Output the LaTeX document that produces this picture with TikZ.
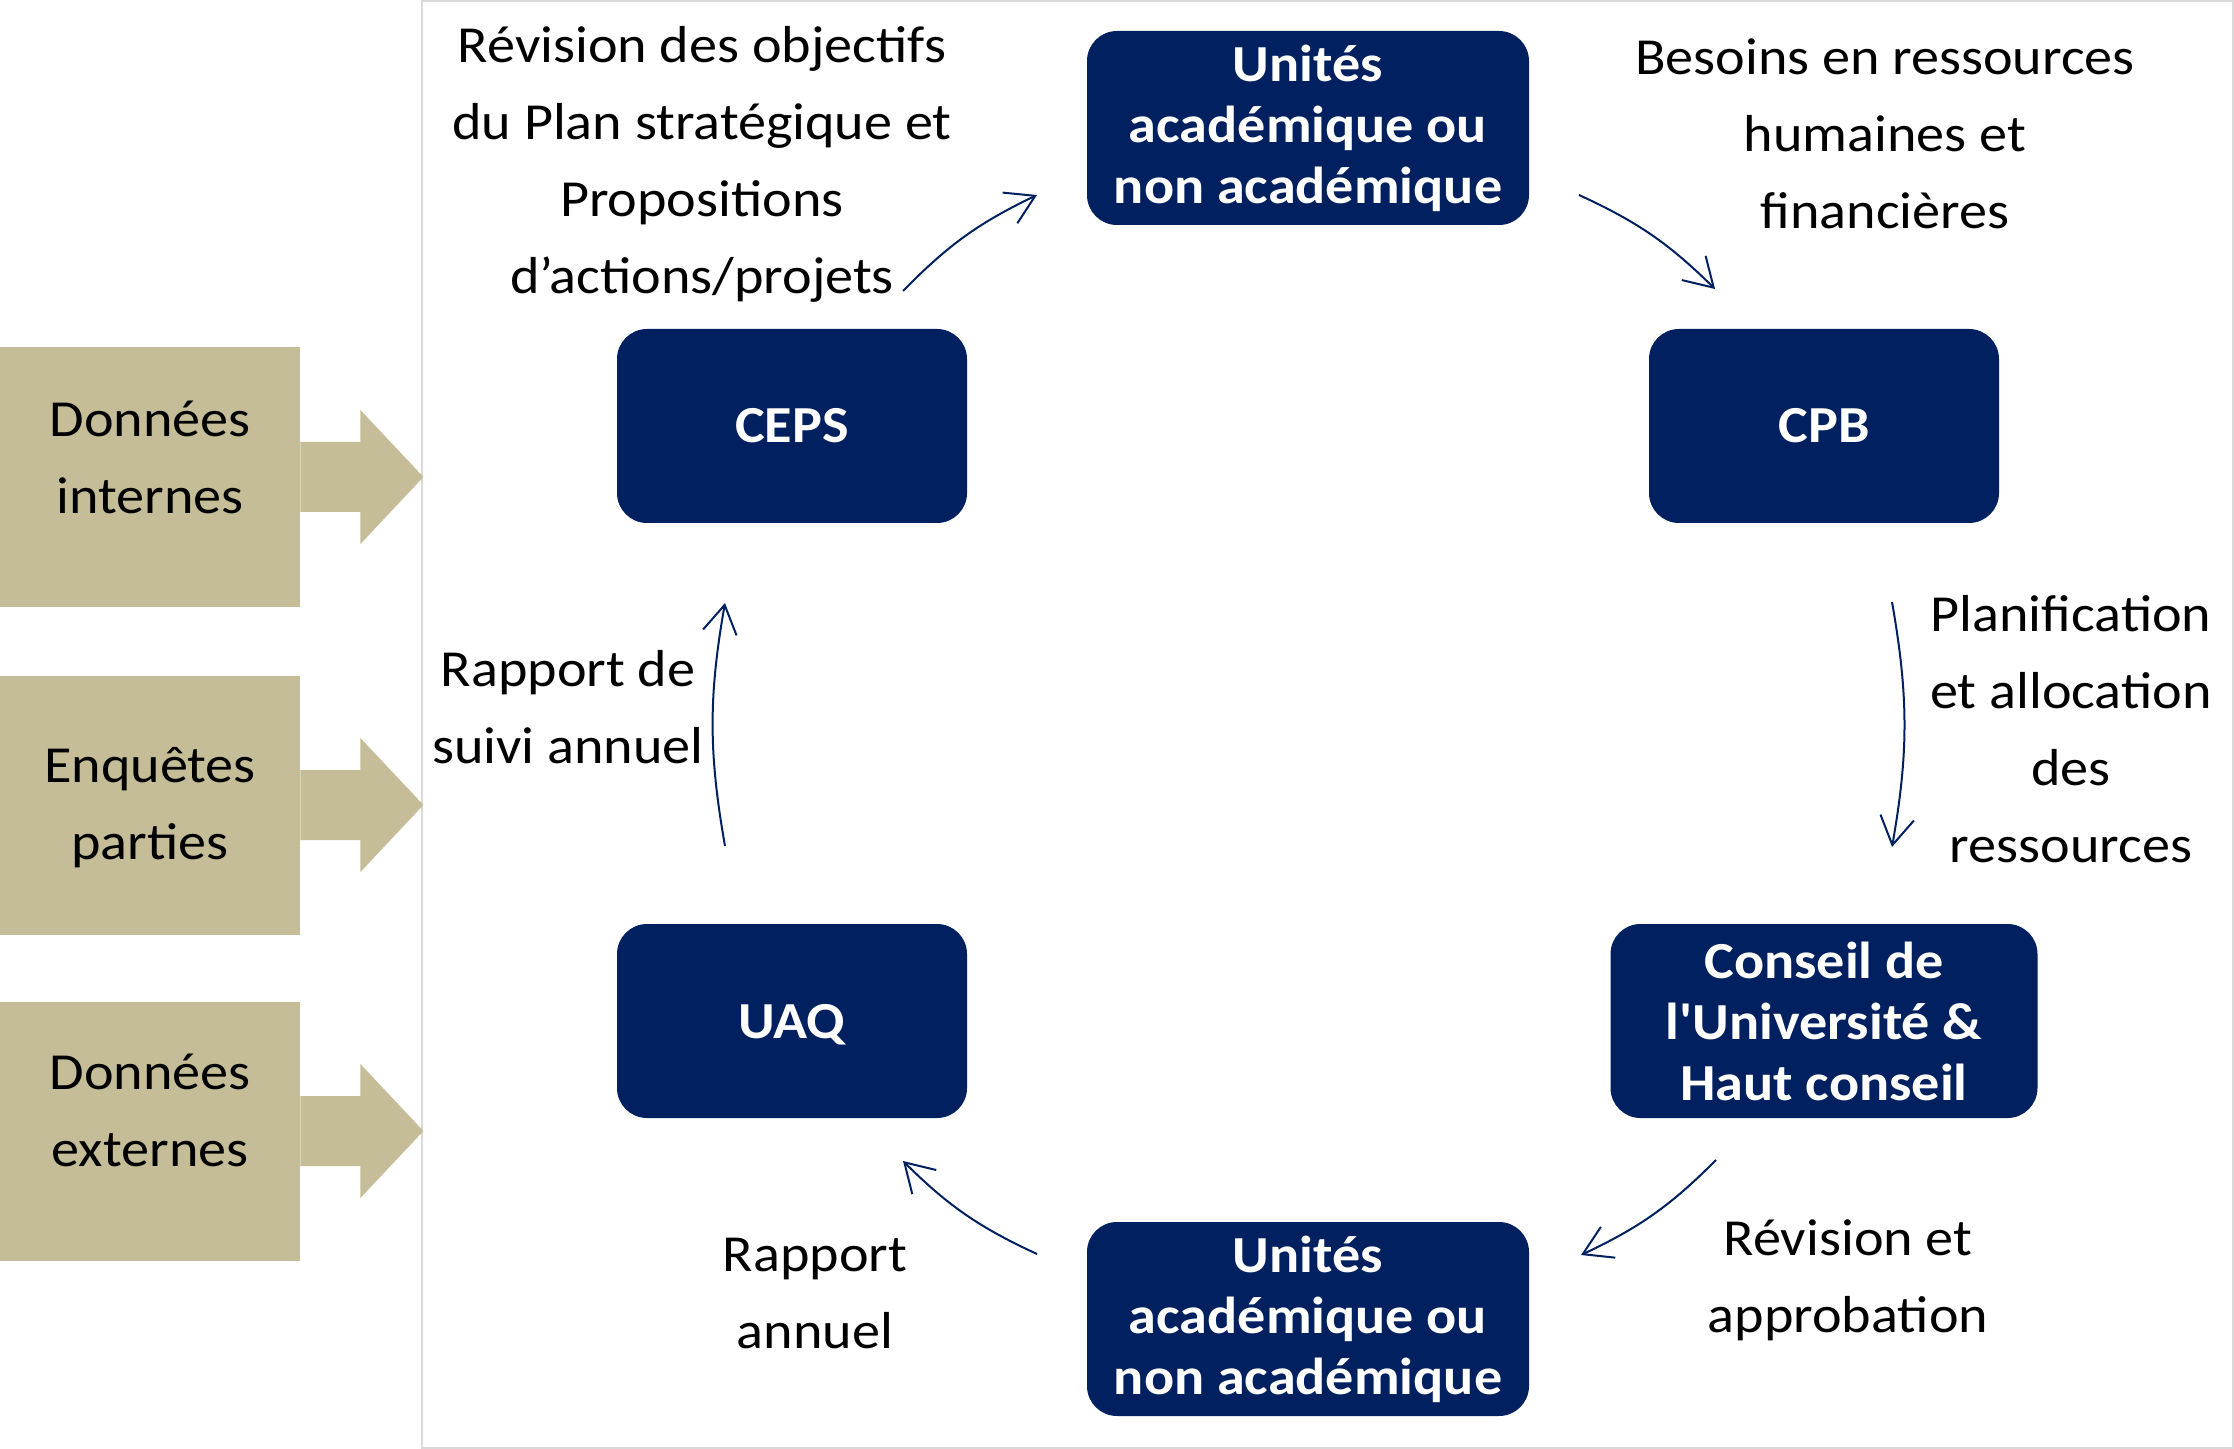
\documentclass[tikz,border=0pt]{standalone}
\usepackage{fontspec}
\setmainfont{Carlito}[Ligatures=TeXOff,FakeStretch=1.08]
\usepackage{tikz}
\usetikzlibrary{arrows.meta}
\definecolor{navy}{HTML}{002060}
\definecolor{tan}{HTML}{C4BD97}
\definecolor{framegray}{HTML}{D9D9D9}

\begin{document}
\begin{tikzpicture}[x=0.5pt,y=0.5pt,
	unit/.style={fill=navy,rounded corners=15pt,text=white,align=center,
		font=\bfseries\fontsize{26pt}{30.5pt}\selectfont,
		minimum width=175pt,minimum height=97pt,inner sep=0pt},
	note/.style={align=center,inner sep=0pt,font=\fontsize{26pt}{38.5pt}\selectfont},
	source/.style={fill=tan,minimum width=150pt,minimum height=129.5pt,inner sep=0pt},
	flow/.style={color=navy,line width=1pt,-{Straight Barb[length=14pt,width=17pt]}}]
			\useasboundingbox (0,0) rectangle (2234,-1449);
			\draw[framegray,line width=1.2pt] (422,-1) rectangle (2233,-1448);
			% sources on the left
			\foreach \cy/\ty/\txt [count=\i] in {477/457/Données\\internes,
				805/808/Enquêtes\\parties, 1131/1110/Données\\externes} {
				\node[source] (src\i) at (150,-\cy) {};
				\fill[tan] (src\i.east) ++(0,35) -- ++(60,0) -- ++(0,32) -- ++(63,-67)
					-- ++(-63,-67) -- ++(0,32) -- ++(-60,0) -- cycle;
				\node[note] (srctxt\i) at (150,-\ty) {\txt};
			}
			% the cycle
			\node[unit,minimum width=221pt] (unitop) at (1308,-128) {Unités\\académique ou\\non académique};
			\node[unit] (ceps) at (792,-426) {CEPS};
			\node[unit] (cpb) at (1824,-426) {CPB};
			\node[unit,minimum width=213.5pt] (conseil) at (1824,-1021) {Conseil de\\l'Université \&\\Haut conseil};
			\node[unit,minimum width=221pt] (unitbot) at (1308,-1319) {Unités\\académique ou\\non académique};
			\node[unit,text depth=0pt] (uaq) at (792,-1021) {UAQ};
			% labels
			\node[note] (objectifs) at (702,-164) {Révision des objectifs\\du Plan stratégique et\\Propositions\\d’actions/projets};
			\node[note] (besoins) at (1885,-134) {Besoins en ressources\\humaines et\\financières};
			\node[note] (planif) at (2071,-729) {Planification\\et allocation\\des\\ressources};
			\node[note] (approb) at (1848,-1280) {Révision et\\approbation};
			\node[note] (rapann) at (815,-1294) {Rapport\\annuel};
			\node[note] (suivi) at (568,-707) {Rapport de\\suivi annuel};
			% arrow ends
			\coordinate (f1a) at (903,-291);  \coordinate (f1b) at (1037,-195);
			\coordinate (f2a) at (1579,-195); \coordinate (f2b) at (1715,-289);
			\coordinate (f3a) at (1892,-602); \coordinate (f3b) at (1892,-847);
			\coordinate (f4a) at (1716,-1160); \coordinate (f4b) at (1581,-1255);
			\coordinate (f5a) at (1037,-1254); \coordinate (f5b) at (903,-1161);
			\coordinate (f6a) at (725,-846);  \coordinate (f6b) at (725,-603);
			\path[flow]
			(f1a) edge[bend left=10] (f1b)
			(f2a) edge[bend left=10] (f2b)
			(f3a) edge[bend left=10] (f3b)
			(f4a) edge[bend left=10] (f4b)
			(f5a) edge[bend left=10] (f5b)
			(f6a) edge[bend left=10] (f6b);
		\end{tikzpicture}
\end{document}
